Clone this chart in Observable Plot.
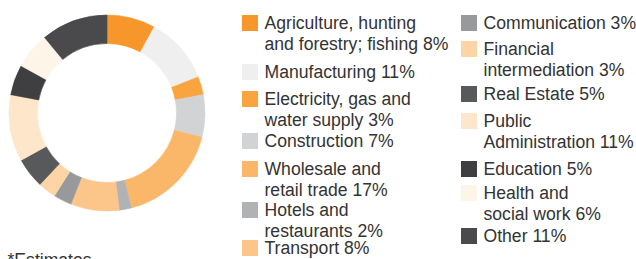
<!DOCTYPE html>
<html>
<head>
<meta charset="utf-8">
<script src="https://cdn.jsdelivr.net/npm/d3@7"></script>
<script src="https://cdn.jsdelivr.net/npm/@observablehq/plot@0.6"></script>
<style>
  html, body { margin: 0; padding: 0; background: #fff; }
  #chart svg { display: block; }
</style>
</head>
<body>
<div id="chart"></div>
<script>
// ---- data ----
const sectors = [
  "Agriculture, hunting\nand forestry; fishing",
  "Manufacturing",
  "Electricity, gas and\nwater supply",
  "Construction",
  "Wholesale and\nretail trade",
  "Hotels and\nrestaurants",
  "Transport",
  "Communication",
  "Financial\nintermediation",
  "Real Estate",
  "Public\nAdministration",
  "Education",
  "Health and\nsocial work",
  "Other"
];
const shares = [8, 11, 3, 7, 17, 2, 8, 3, 3, 5, 11, 5, 6, 11];
const colors = [
  "#f7962a", "#efefef", "#f9a43f", "#d2d3d4", "#fbb769", "#b0b2b4", "#fcc68a",
  "#98999b", "#fdd4a6", "#58595b", "#fee6cb", "#3f3f41", "#fef5e9", "#4a4a4c"
];
const footnote = "*Estimates";

// ---- layout (pixels) ----
const W = 636, H = 259;
const donut = {cx: 107, cy: 113, outer: 98, inner: 69.5};
const legendColumn = [0, 0, 0, 0, 0, 0, 0, 1, 1, 1, 1, 1, 1, 1];
const columnX = [242, 461];
const legendTop = [15, 64, 91, 133, 161, 202, 240, 15, 41, 86, 113, 161, 185, 228];
const swatch = 16, textGap = 22, fontSize = 17.6, lineStep = 21;

const rows = sectors.map((name, i) => ({
  name,
  share: shares[i],
  color: colors[i],
  label: `${name} ${shares[i]}%`,
  x: columnX[legendColumn[i]],
  y: legendTop[i]
}));

function donutMark(index, scales) {
  const cx = scales.x(donut.cx), cy = scales.y(donut.cy);
  const k = scales.x(1) - scales.x(0);
  const pie = d3.pie().sort(null).value(d => d.share)(rows);
  const arc = d3.arc().innerRadius(donut.inner * k).outerRadius(donut.outer * k);
  const g = d3.create("svg:g").attr("transform", `translate(${cx},${cy})`);
  g.selectAll("path")
    .data(pie)
    .join("path")
    .attr("d", arc)
    .attr("fill", d => d.data.color)
    .attr("stroke", d => d.data.color)
    .attr("stroke-width", 0.6);
  return g.node();
}

const chart = Plot.plot({
  width: W,
  height: H,
  margin: 0,
  style: {background: "#fff", fontFamily: "'Liberation Sans', Arial, sans-serif"},
  x: {domain: [0, W], range: [0, W], axis: null},
  y: {domain: [0, H], range: [0, H], axis: null},
  marks: [
    donutMark,
    Plot.rect(rows, {
      x1: d => d.x, x2: d => d.x + swatch,
      y1: d => d.y, y2: d => d.y + swatch,
      fill: d => d.color, inset: 0
    }),
    Plot.text(rows, {
      x: d => d.x + textGap,
      y: d => d.y - 1,
      text: "label",
      textAnchor: "start",
      lineAnchor: "top",
      lineHeight: lineStep / fontSize,
      fontSize,
      fill: "#333"
    }),
    Plot.text([footnote], {
      x: 7, y: 253, text: d => d,
      textAnchor: "start", lineAnchor: "top",
      fontSize, fill: "#333"
    })
  ]
});
document.getElementById("chart").append(chart);
</script>
</body>
</html>
